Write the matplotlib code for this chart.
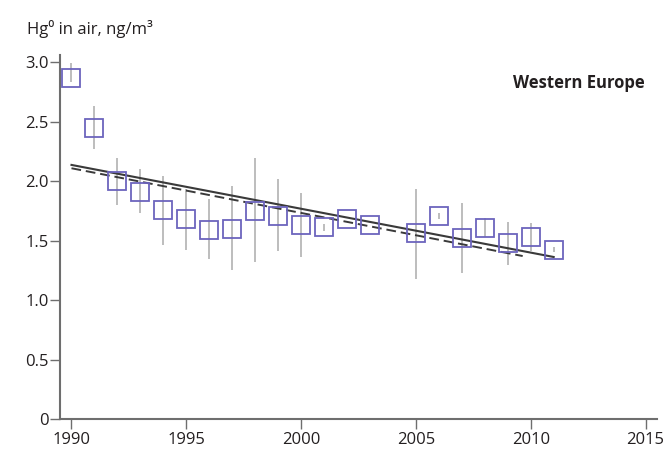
import matplotlib
matplotlib.use("Agg")
import matplotlib.pyplot as plt
import numpy as np

plt.rcParams['font.family'] = ['Open Sans', 'DejaVu Sans']

years = [1990, 1991, 1992, 1993, 1994, 1995, 1996, 1997, 1998, 1999, 2000,
         2001, 2002, 2003, 2005, 2006, 2007, 2008, 2009, 2010, 2011]
hg = [2.87, 2.45, 2.00, 1.91, 1.76, 1.68, 1.59, 1.60, 1.75, 1.71, 1.63,
      1.61, 1.68, 1.63, 1.56, 1.71, 1.52, 1.605, 1.48, 1.53, 1.42]
err_low = [2.83, 2.27, 1.80, 1.73, 1.46, 1.42, 1.345, 1.25, 1.32, 1.41, 1.36,
           1.58, 1.68, 1.63, 1.18, 1.68, 1.225, 1.53, 1.295, 1.415, 1.40]
err_high = [2.99, 2.63, 2.19, 2.105, 2.04, 1.93, 1.85, 1.96, 2.19, 2.02, 1.90,
            1.64, 1.68, 1.63, 1.93, 1.73, 1.82, 1.69, 1.66, 1.65, 1.45]

trend_solid_years = [1990, 2011]
trend_solid = [2.136, 1.362]
trend_dashed_years = [1990, 2009.65]
trend_dashed = [2.108, 1.37]

xticks = [1990, 1995, 2000, 2005, 2010, 2015]
yticks = [0, 0.5, 1.0, 1.5, 2.0, 2.5, 3.0]
yticklabels = ["0", "0.5", "1.0", "1.5", "2.0", "2.5", "3.0"]

fig = plt.figure(figsize=(6.66, 4.55), dpi=100)
ax = fig.add_axes([0.0901, 0.0791, 0.8964, 0.8])

hg_a = np.array(hg)
yerr = np.vstack([hg_a - np.array(err_low), np.array(err_high) - hg_a])
ax.errorbar(years, hg, yerr=yerr, fmt='none', ecolor='#b8b8b8', elinewidth=1.3,
            capsize=0, zorder=1)
ax.plot(years, hg, linestyle='none', marker='s', markersize=12.5,
        markerfacecolor='none', markeredgecolor='#6c64bd', markeredgewidth=1.3,
        zorder=3)
ax.plot(trend_solid_years, trend_solid, color='#3a3a3a', lw=1.5, zorder=2)
ax.plot(trend_dashed_years, trend_dashed, color='#3a3a3a', lw=1.4,
        linestyle=(0, (5, 2.5)), zorder=2)

ax.set_xlim(1989.5, 2015.5)
ax.set_ylim(0, 3.06)
ax.set_xticks(xticks)
ax.set_xticklabels([str(t) for t in xticks])
ax.set_yticks(yticks)
ax.set_yticklabels(yticklabels)

for s in ['top', 'right']:
    ax.spines[s].set_visible(False)
for s in ['left', 'bottom']:
    ax.spines[s].set_color('#6e6e6e')
    ax.spines[s].set_linewidth(1.5)
ax.tick_params(axis='both', direction='out', length=7, width=1, color='#6e6e6e',
               labelsize=12, labelcolor='#231f20', pad=2)
ax.tick_params(axis='y', pad=1)

fig.text(0.041, 0.925, "Hg\u2070 in air, ng/m\u00b3", fontsize=12, color='#231f20',
         ha='left', va='baseline')
ax.text(0.98, 0.923, "Western Europe", transform=ax.transAxes, fontsize=12,
        fontweight='bold', color='#231f20', ha='right', va='center')

fig.savefig("out.png", dpi=100)
